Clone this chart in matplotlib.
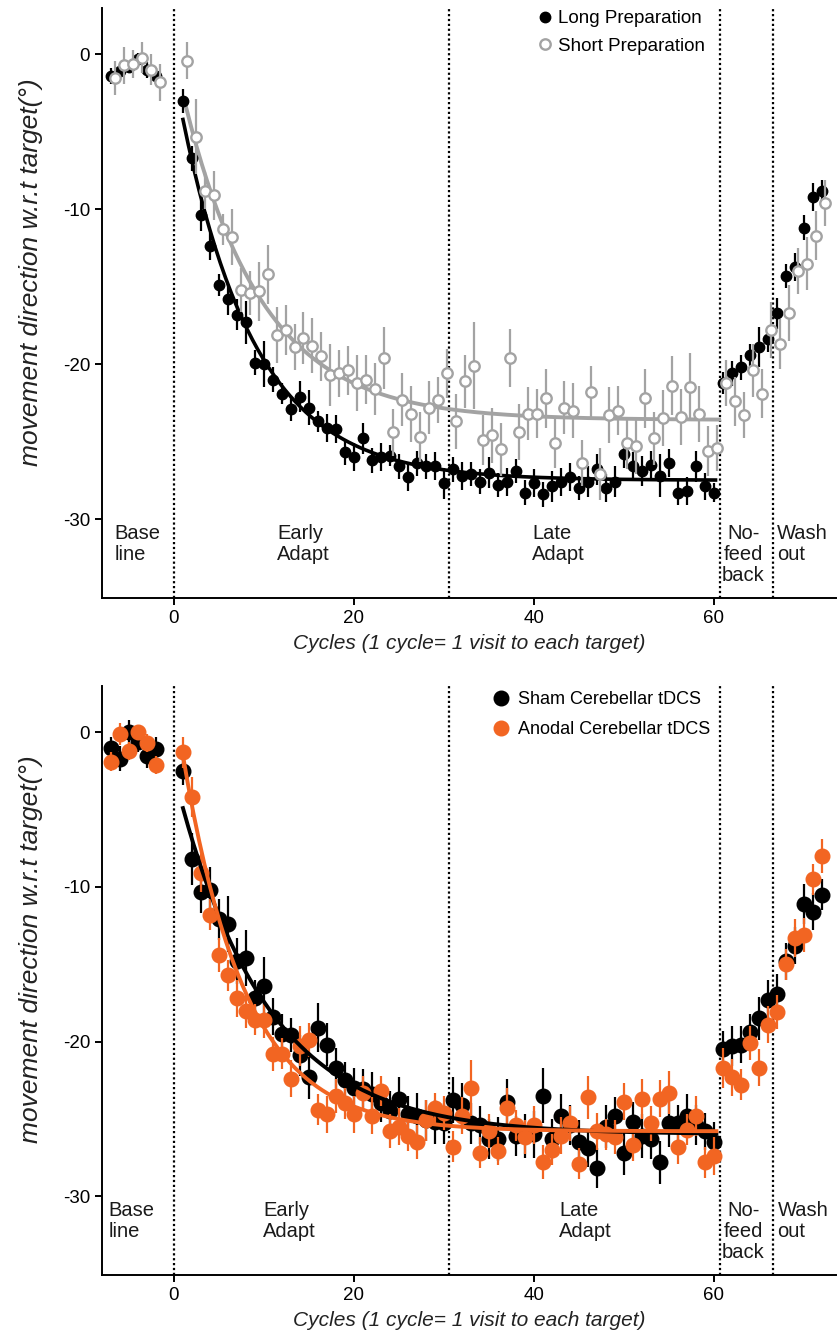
import numpy as np
import matplotlib.pyplot as plt

plt.rcParams['font.family'] = ['Liberation Sans', 'DejaVu Sans']
plt.rcParams['axes.unicode_minus'] = False

# cycle numbers: baseline, adaptation (1-60), no-feedback (61-66), washout (67-72)
cycles = list(range(-7, -1)) + list(range(1, 73))

# ---- top panel: long vs short preparation ----
long_prep = [-1.4, -1.1, -0.8, -0.3, -1.0, -1.4,
             -3.0, -6.7, -10.4, -12.4, -14.9, -15.8, -16.8, -17.3, -19.9, -20.0,
             -21.0, -21.9, -22.9, -22.1, -22.8, -23.7, -24.1, -24.2, -25.7, -26.0,
             -24.8, -26.2, -26.0, -25.9, -26.6, -27.3, -26.4, -26.6, -26.6, -27.7,
             -26.8, -27.2, -27.1, -27.6, -27.0, -27.8, -27.6, -26.9, -28.3, -27.7,
             -28.4, -27.9, -27.6, -27.3, -28.0, -27.6, -26.8, -28.0, -27.6, -25.8,
             -26.6, -26.9, -26.5, -27.2, -26.4, -28.3, -28.2, -26.6, -27.9, -28.3,
             -21.2, -20.6, -20.2, -19.4, -18.9, -18.4,
             -16.7, -14.3, -13.7, -11.2, -9.2, -8.8]
long_err = [0.5, 0.4, 0.4, 0.4, 0.5, 0.5,
            0.8, 0.8, 1.0, 0.9, 0.7, 1.0, 1.0, 1.4, 0.8, 1.5,
            0.8, 0.7, 0.8, 1.0, 1.1, 0.7, 0.9, 0.9, 0.8, 0.9,
            1.0, 0.8, 0.9, 0.7, 0.8, 0.9, 0.8, 0.8, 0.9, 1.0,
            0.8, 0.9, 0.8, 0.8, 1.0, 0.8, 0.9, 0.8, 0.8, 0.9,
            0.8, 1.0, 0.9, 0.9, 0.8, 1.0, 1.0, 0.9, 1.0, 0.9,
            0.9, 1.0, 0.9, 1.4, 0.9, 0.8, 0.9, 1.0, 0.9, 0.6,
            0.7, 0.8, 0.8, 0.7, 1.3, 0.8,
            1.0, 0.8, 0.9, 0.8, 0.9, 0.7]
short_prep = [-1.5, -0.7, -0.6, -0.2, -1.0, -1.8,
              -0.4, -5.3, -8.8, -9.1, -11.3, -11.8, -15.2, -15.4, -15.3, -14.2,
              -18.1, -17.8, -18.9, -18.3, -18.8, -19.5, -20.7, -20.6, -20.4, -21.2,
              -21.0, -21.6, -19.6, -24.4, -22.3, -23.2, -24.7, -22.8, -22.3, -20.6,
              -23.7, -21.1, -20.1, -24.9, -24.6, -25.5, -19.6, -24.4, -23.2, -23.2,
              -22.2, -25.1, -22.8, -23.0, -26.4, -21.8, -27.1, -23.3, -23.0, -25.1,
              -25.3, -22.2, -24.8, -23.5, -21.4, -23.4, -21.5, -23.2, -25.6, -25.4,
              -21.2, -22.4, -23.3, -20.4, -21.9, -17.8,
              -18.7, -16.7, -14.0, -13.5, -11.7, -9.6]
short_err = [1.1, 1.2, 0.9, 1.0, 1.0, 1.2,
             1.2, 2.4, 1.2, 1.6, 1.0, 1.8, 1.4, 1.4, 1.9, 1.9,
             1.8, 1.6, 1.5, 1.7, 1.8, 1.6, 2.0, 1.5, 1.6, 1.8,
             1.6, 1.7, 2.0, 1.5, 1.7, 1.8, 1.6, 1.7, 1.5, 1.6,
             1.8, 1.7, 2.8, 1.6, 1.8, 1.7, 1.9, 1.8, 1.7, 1.6,
             1.9, 1.6, 1.7, 1.8, 1.5, 1.7, 1.7, 1.8, 1.6, 1.7,
             1.8, 1.9, 1.7, 1.8, 1.9, 1.8, 2.2, 1.8, 1.6, 1.5,
             1.5, 1.6, 1.5, 1.7, 1.6, 1.8,
             1.6, 1.8, 1.5, 1.7, 1.6, 1.5]

# ---- bottom panel: sham vs anodal cerebellar tDCS ----
sham = [-1.0, -1.7, 0.0, -0.6, -1.5, -1.1,
        -2.5, -8.2, -10.3, -10.2, -12.1, -12.4, -14.8, -14.6, -17.2, -16.4,
        -18.4, -19.5, -19.6, -20.9, -22.3, -19.1, -20.2, -21.7, -22.5, -23.0,
        -23.1, -23.4, -24.0, -24.5, -23.7, -24.7, -24.8, -25.1, -25.2, -25.3,
        -23.8, -24.1, -25.3, -25.4, -26.3, -26.3, -23.9, -26.1, -26.1, -26.0,
        -23.5, -26.3, -24.8, -25.4, -26.5, -26.9, -28.2, -25.5, -24.8, -27.2,
        -25.2, -26.1, -26.3, -27.8, -25.3, -25.3, -24.8, -25.4, -25.8, -26.5,
        -20.5, -20.3, -20.2, -19.4, -18.5, -17.3,
        -16.9, -14.8, -13.8, -11.1, -11.6, -10.5]
sham_err = [0.7, 0.8, 0.8, 0.7, 0.8, 0.8,
            0.9, 1.7, 1.4, 1.5, 1.3, 1.8, 1.5, 1.8, 1.2, 1.9,
            1.2, 1.3, 1.1, 1.3, 1.4, 1.6, 1.4, 1.3, 1.2, 1.3,
            1.3, 1.4, 1.2, 1.3, 1.4, 1.2, 1.5, 1.3, 1.4, 1.3,
            1.5, 1.4, 1.3, 1.2, 1.3, 1.4, 1.5, 1.3, 1.4, 1.5,
            1.8, 1.3, 1.4, 1.3, 1.4, 1.2, 1.3, 1.4, 1.2, 1.4,
            1.3, 1.4, 1.3, 1.4, 1.5, 1.2, 1.4, 1.3, 1.2, 1.3,
            1.2, 1.3, 1.2, 1.2, 1.4, 1.3,
            1.3, 1.2, 1.2, 1.3, 1.2, 1.0]
anodal = [-1.9, -0.1, -1.2, 0.0, -0.7, -2.1,
          -1.3, -4.2, -9.1, -11.8, -14.4, -15.7, -17.2, -18.0, -18.6, -18.6,
          -20.8, -20.8, -22.4, -20.3, -19.9, -24.4, -24.7, -23.5, -24.0, -24.7,
          -23.3, -24.8, -23.2, -25.8, -25.5, -26.1, -26.5, -25.1, -24.3, -24.6,
          -26.8, -24.8, -23.0, -27.2, -25.8, -27.1, -24.3, -25.4, -26.2, -25.4,
          -27.8, -27.0, -26.1, -25.3, -27.9, -23.6, -25.8, -26.0, -26.2, -23.9,
          -26.7, -23.7, -25.3, -23.7, -23.3, -26.8, -25.7, -24.8, -27.8, -27.4,
          -21.7, -22.3, -22.8, -20.1, -21.7, -18.9,
          -18.1, -15.0, -13.3, -13.1, -9.5, -8.0]
anodal_err = [0.6, 0.7, 0.6, 0.5, 0.6, 0.6,
              1.0, 1.3, 1.2, 1.0, 1.1, 1.0, 1.2, 1.1, 1.0, 1.2,
              1.1, 1.0, 1.2, 1.3, 1.1, 1.0, 1.2, 1.1, 1.0, 1.2,
              1.1, 1.2, 1.0, 1.1, 1.2, 1.0, 1.1, 1.3, 1.0, 1.1,
              1.0, 1.2, 1.8, 1.0, 1.1, 0.9, 1.3, 1.0, 1.1, 1.2,
              1.1, 1.0, 1.2, 1.1, 1.0, 1.4, 1.2, 1.0, 1.1, 1.2,
              1.0, 1.3, 1.1, 1.2, 1.4, 1.1, 1.0, 1.3, 1.0, 1.2,
              1.3, 1.2, 1.0, 1.1, 1.2, 1.2,
              1.1, 1.0, 1.2, 1.1, 1.0, 1.1]

# exponential fits: plateau, amplitude, rate, start cycle, end cycle
long_fit = [-27.5, 23.3, 0.122, 1.0, 60.2]
short_fit = [-23.6, 20.3, 0.115, 1.3, 60.6]
sham_fit = [-26.0, 21.1, 0.100, 1.0, 60.3]
anodal_fit = [-25.8, 24.3, 0.143, 1.0, 60.3]

phase_lines = [0, 30.6, 60.65, 66.6]
phase_labels = ['Base\nline', 'Early\nAdapt', 'Late\nAdapt', 'No-\nfeed\nback', 'Wash\nout']

GRAY = '#a3a3a3'
ORANGE = '#f26522'


def fit_curve(p):
    x = np.linspace(p[3], p[4], 200)
    return x, p[0] + p[1] * np.exp(-p[2] * (x - p[3]))


def setup(ax, label_x):
    ax.set_xlim(-8, 73.6)
    ax.set_ylim(-35.1, 3.0)
    for s in ['top', 'right']:
        ax.spines[s].set_visible(False)
    for s in ['left', 'bottom']:
        ax.spines[s].set_linewidth(1.4)
    ax.set_xticks([0, 20, 40, 60])
    ax.set_yticks([0, -10, -20, -30])
    ax.set_yticklabels(['0', '-10', '-20', '-30'])
    ax.tick_params(labelsize=13.5, width=1.4, length=5)
    for xv in phase_lines:
        ax.axvline(xv, color='black', linestyle=(0, (1, 1.2)), linewidth=1.6, zorder=1)
    for xv, txt, ha in zip(label_x, phase_labels, ['left', 'left', 'left', 'center', 'left']):
        ax.text(xv, -30.3, txt, ha=ha, va='top', fontsize=14.5, linespacing=1.15,
                multialignment='center' if ha == 'center' else 'left', color='#1a1a1a')
    ax.set_xlabel('Cycles (1 cycle= 1 visit to each target)', fontsize=15, style='italic',
                  labelpad=5, color='#222222')
    ax.set_ylabel('movement direction w.r.t target(\u00b0)', fontsize=19, style='italic',
                  color='#222222')
    ax.yaxis.set_label_coords(-0.08, 0.553)


fig = plt.figure(figsize=(8.38, 13.33), dpi=100)
ax1 = fig.add_axes([0.1217, 0.5514, 0.876, 0.4426])
ax2 = fig.add_axes([0.1217, 0.0435, 0.876, 0.4419])

x_long = np.array(cycles, dtype=float)
x_short = x_long + 0.4

# top panel
ax1.errorbar(x_long, long_prep, yerr=long_err, fmt='none', ecolor='black',
             elinewidth=1.6, capsize=0, zorder=3)
ax1.plot(x_long, long_prep, 'o', color='black', ms=7.5, zorder=3, label='Long Preparation')
xf, yf = fit_curve(long_fit)
ax1.plot(xf, yf, color='black', lw=2.6, zorder=2)
ax1.errorbar(x_short, short_prep, yerr=short_err, fmt='none', ecolor=GRAY,
             elinewidth=1.6, capsize=0, zorder=4)
ax1.plot(x_short, short_prep, 'o', mfc='white', mec=GRAY, mew=1.7, ms=7.5, zorder=4,
         label='Short Preparation')
xf, yf = fit_curve(short_fit)
ax1.plot(xf, yf, color=GRAY, lw=2.8, zorder=2)
setup(ax1, [-6.6, 11.5, 39.8, 63.3, 67.0])
ax1.legend(loc='upper left', bbox_to_anchor=(0.593, 0.996), frameon=False, fontsize=13.5,
           handlelength=0.8, handletextpad=0.3, labelspacing=0.55, borderaxespad=0,
           borderpad=0)

# bottom panel
ax2.errorbar(x_long, sham, yerr=sham_err, fmt='none', ecolor='black',
             elinewidth=1.6, capsize=0, zorder=3)
ax2.plot(x_long, sham, 'o', color='black', ms=10.5, zorder=3, label='Sham Cerebellar tDCS')
ax2.errorbar(x_long, anodal, yerr=anodal_err, fmt='none', ecolor=ORANGE,
             elinewidth=1.6, capsize=0, zorder=4)
ax2.plot(x_long, anodal, 'o', color=ORANGE, ms=10.5, zorder=4, label='Anodal Cerebellar tDCS')
xf, yf = fit_curve(sham_fit)
ax2.plot(xf, yf, color='black', lw=2.8, zorder=5)
xf, yf = fit_curve(anodal_fit)
ax2.plot(xf, yf, color=ORANGE, lw=2.8, zorder=6)
setup(ax2, [-7.3, 9.9, 42.8, 63.3, 67.1])
ax2.legend(loc='upper left', bbox_to_anchor=(0.532, 0.991), frameon=False, fontsize=13,
           handlelength=0.9, handletextpad=0.5, labelspacing=0.7, borderaxespad=0,
           borderpad=0)

fig.savefig('out.png', dpi=100)
